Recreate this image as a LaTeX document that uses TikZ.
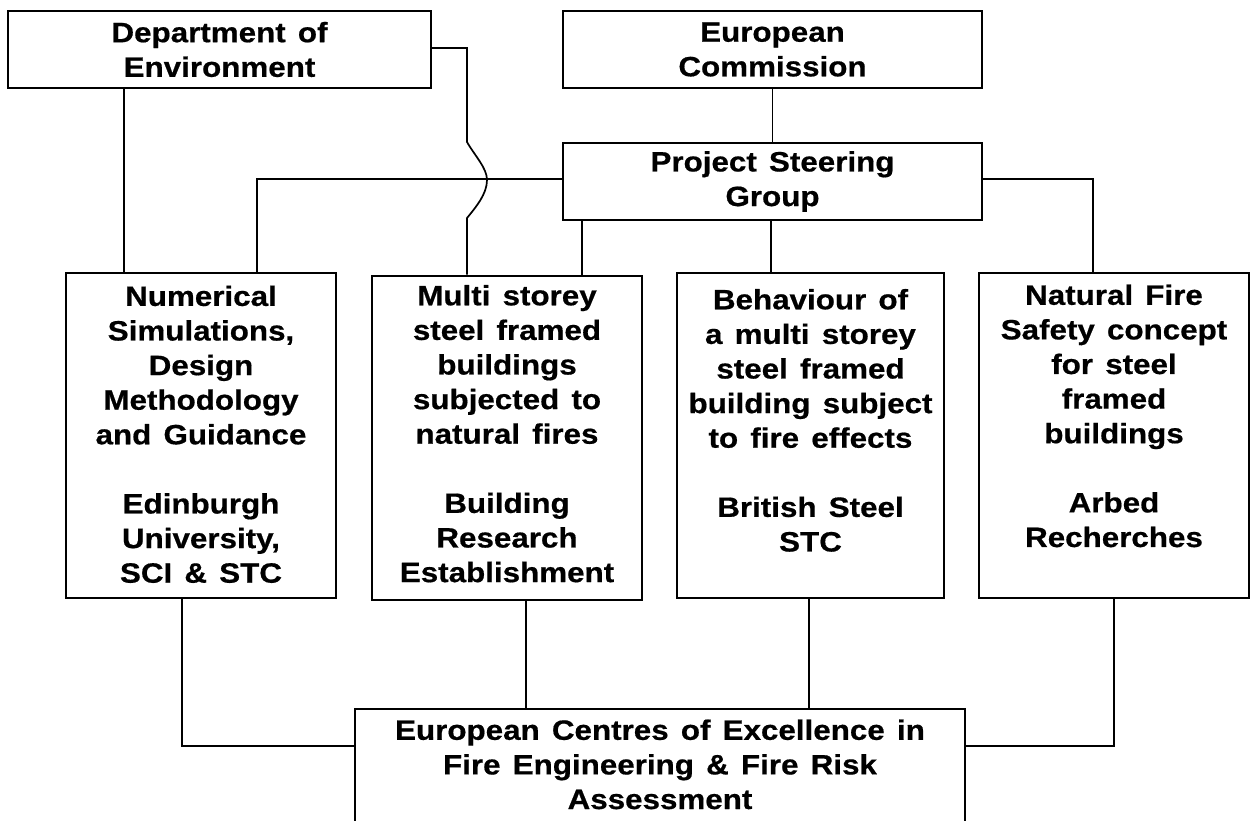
\documentclass[tikz,border=0pt]{standalone}
\usepackage{fontspec}
\setmainfont{Liberation Sans}[FakeStretch=1.12,WordSpace=1.4,FakeBold=0.6]
\newcommand{\toptext}[4]{\parbox[c][#1][t]{#2}{\centering\vspace*{#3}#4}}
\tikzset{
  box/.style={draw, line width=2pt, inner sep=0pt, align=center,
    font=\bfseries\fontsize{28}{34.6}\selectfont},
  link/.style={line width=1.7pt},
}
\begin{document}
\begin{tikzpicture}[x=1pt,y=-1pt]
\useasboundingbox (0,0) rectangle (1252,820);
\clip (0,0) rectangle (1252,820);
% top row
\node[box, minimum width=423, minimum height=77] (doe) at (219.5,49.5) {Department of\\Environment};
\node[box, minimum width=419, minimum height=77] (ec) at (772.5,49.5) {European\\Commission};
\node[box, minimum width=419, minimum height=77] (psg) at (772.5,181.5) {Project Steering\\Group};
% middle row
\node[box] (num) at (201,435.5) {\toptext{325pt}{270pt}{12.6pt}{Numerical\\Simulations,\\Design\\Methodology\\and Guidance\\[34.6pt]Edinburgh\\University,\\SCI \& STC}};
\node[box] (multi) at (507,437.5) {\toptext{324pt}{270pt}{9.5pt}{Multi storey\\steel framed\\buildings\\subjected to\\natural fires\\[34.6pt]Building\\Research\\Establishment}};
\node[box] (beh) at (810.5,435.5) {\toptext{325pt}{267pt}{16pt}{Behaviour of\\a multi storey\\steel framed\\building subject\\to fire effects\\[34.6pt]British Steel\\STC}};
\node[box] (nat) at (1114,435.5) {\toptext{325pt}{270pt}{11.5pt}{Natural Fire\\Safety concept\\for steel\\framed\\buildings\\[34.6pt]Arbed\\Recherches}};
% bottom
\node[box] (bot) at (660,769.5) {\toptext{121pt}{610pt}{10.5pt}{European Centres of Excellence in\\Fire Engineering \& Fire Risk\\Assessment}};
% coordinates
\coordinate (xdoe) at (124,0);
\coordinate (xpl) at (257,0);
\coordinate (yd) at (0,48);
\coordinate (yh) at (0,179);
\coordinate (bt) at (467,142);
\coordinate (bm) at (487,180);
\coordinate (bb) at (467,218);
\coordinate (xpm) at (582,0);
\coordinate (xpb) at (771,0);
\coordinate (xpr) at (1093,0);
\coordinate (xb1) at (182,0);
\coordinate (xb2) at (526,0);
\coordinate (xb3) at (809,0);
\coordinate (xb4) at (1114,0);
\coordinate (yb) at (0,746);
% connectors
\draw[link] (doe.south -| xdoe) -- (num.north -| xdoe);
\draw[link] (doe.east |- yd) -| (bt) .. controls (475,156) and (487,168) .. (bm) .. controls (487,194) and (476,207) .. (bb) -- (multi.north -| bb);
\draw[link] (psg.west |- yh) -| (num.north -| xpl);
\draw[link] (psg.south -| xpm) -- (multi.north -| xpm);
\draw[link] (ec.south) -- (psg.north);
\draw[link] (psg.south -| xpb) -- (beh.north -| xpb);
\draw[link] (psg.east |- yh) -| (nat.north -| xpr);
\draw[link] (num.south -| xb1) |- (bot.west |- yb);
\draw[link] (multi.south -| xb2) -- (bot.north -| xb2);
\draw[link] (beh.south -| xb3) -- (bot.north -| xb3);
\draw[link] (nat.south -| xb4) |- (bot.east |- yb);
\end{tikzpicture}
\end{document}
